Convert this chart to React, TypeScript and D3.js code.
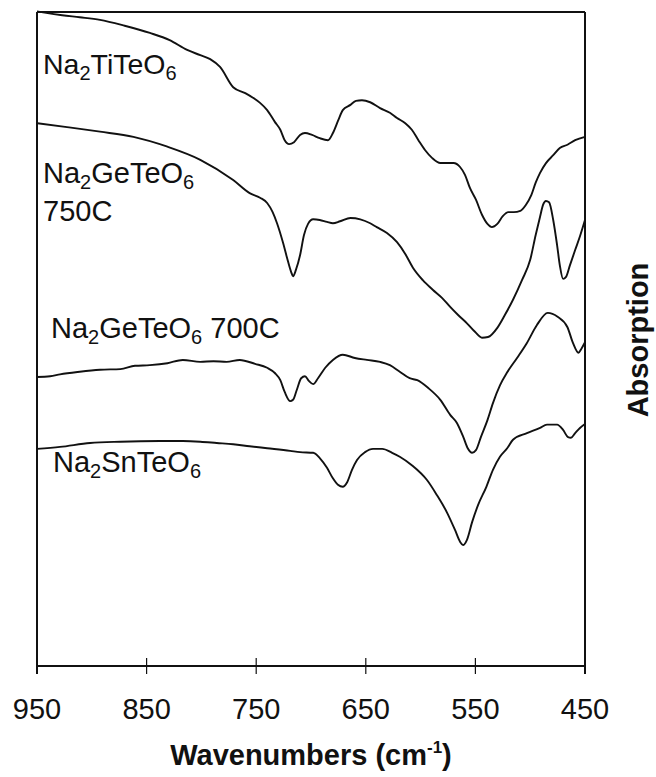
import React from "react";
import * as d3 from "d3";

// Infrared absorption spectra, vertically offset (arbitrary absorption units)
const tiWave = [950, 943, 927, 911, 892.5, 870, 847, 829, 813, 801, 792, 783, 771, 760, 753, 746.5, 740, 733, 728, 724, 720, 715.5, 710, 705.5, 699, 692, 684.5, 680, 675, 671, 664, 659, 653.5, 646, 637, 628, 621.5, 614, 608, 602, 596, 589.6, 582, 576, 570, 564, 559.5, 555, 549.5, 544, 539, 535, 530, 525, 520, 515, 509, 504, 499, 495, 491, 485.6, 479, 473, 466, 459, 450];
const tiAbs = [100.1, 99.9, 99.5, 99.2, 98.8, 97.9, 96.8, 95.7, 94.2, 93.4, 92.8, 91.6, 88.5, 87.6, 86.9, 86.1, 85.0, 83.2, 82.0, 80.4, 79.8, 80.1, 81.2, 81.5, 81.2, 80.7, 80.4, 81.5, 83.5, 85.0, 85.8, 86.4, 86.5, 86.2, 85.3, 84.6, 83.8, 83.0, 82.0, 80.4, 78.9, 77.7, 76.9, 76.9, 76.9, 76.3, 75.1, 73.1, 71.3, 69.0, 67.6, 67.1, 67.6, 68.8, 69.4, 69.4, 69.6, 70.5, 72.0, 73.9, 75.4, 76.9, 78.1, 79.2, 79.7, 80.4, 80.9];

const ge750Wave = [950, 922.6, 892.5, 862, 831, 801, 771, 756, 746.5, 740, 735, 731, 725.5, 722, 718, 716.4, 713.7, 710, 706.4, 702.7, 698, 692, 685.4, 680, 673.5, 664, 655, 646, 640, 630.7, 621.5, 614, 607, 598, 588.7, 580.5, 573, 566, 557.7, 550.4, 544, 538.5, 530, 523, 515.7, 507.5, 500, 495, 491, 488.3, 485.6, 482.8, 479, 475.5, 473, 470, 467.3, 463.7, 459, 454.6, 450];
const ge750Abs = [83.0, 82.4, 81.7, 80.9, 79.4, 77.4, 74.3, 72.3, 71.6, 70.8, 69.4, 67.7, 64.7, 62.5, 60.2, 59.6, 60.6, 62.8, 65.9, 67.6, 68.3, 68.2, 67.9, 67.7, 68.0, 68.5, 68.3, 67.7, 67.1, 66.2, 64.8, 63.0, 60.9, 59.0, 57.5, 56.3, 54.9, 53.7, 52.4, 51.1, 50.2, 50.3, 51.7, 53.7, 56.0, 59.0, 62.1, 65.9, 68.7, 70.5, 71.1, 70.9, 68.2, 64.4, 61.3, 59.2, 59.5, 61.3, 63.6, 65.7, 68.2];

const ge700Wave = [950, 938, 929, 911, 892.5, 874, 860.6, 847, 831, 817, 801, 789, 777, 765, 751, 740, 733, 728, 724, 719, 716.4, 713, 709, 705.5, 702, 698, 693.6, 687, 680, 671, 660, 649, 637, 628, 619, 610, 603, 593, 582, 573, 567, 561, 557, 553, 549.5, 545, 539, 534, 527.6, 521, 512, 503, 494, 484, 475, 466, 461, 456, 453, 450];
const ge700Abs = [44.2, 44.3, 44.6, 45.0, 45.3, 45.4, 45.9, 46.0, 46.3, 46.8, 46.5, 46.6, 46.5, 46.8, 46.2, 45.6, 44.8, 43.7, 41.9, 40.5, 40.7, 42.2, 44.0, 44.3, 43.6, 43.1, 44.0, 45.6, 46.8, 47.6, 47.1, 46.8, 46.5, 46.0, 45.0, 44.0, 43.7, 42.5, 40.7, 38.4, 37.2, 35.0, 33.3, 32.6, 33.0, 35.0, 37.6, 40.2, 42.9, 44.9, 47.1, 49.4, 52.1, 54.0, 53.4, 51.8, 49.4, 47.9, 48.6, 49.5];

const snWave = [950, 929, 901.6, 874, 838, 817, 801, 786, 771, 756, 740, 719, 710, 698, 692, 685.4, 680, 675.4, 671, 667, 662.6, 658, 650.7, 643.4, 635, 626, 619, 608, 594, 585, 576, 568.6, 564, 561.3, 557.7, 553, 547.6, 540, 534, 527.6, 521, 515.7, 503, 491, 484.7, 475.5, 470, 465.5, 462.8, 459, 454.6, 450];
const snAbs = [33.2, 33.5, 34.1, 34.3, 34.4, 34.4, 34.3, 34.1, 33.9, 33.6, 33.3, 32.9, 32.7, 32.6, 31.8, 30.3, 28.7, 27.7, 27.4, 28.1, 30.0, 31.5, 32.7, 33.2, 33.2, 32.6, 32.0, 30.7, 28.4, 26.1, 23.5, 20.8, 19.0, 18.5, 19.3, 22.0, 24.6, 27.4, 30.0, 32.0, 33.3, 34.6, 35.6, 36.4, 36.9, 36.9, 36.1, 35.0, 34.9, 35.6, 36.4, 37.0];

const xTicks = [950, 850, 750, 650, 550, 450];

const seriesList = [
  { wave: tiWave, abs: tiAbs },
  { wave: ge750Wave, abs: ge750Abs },
  { wave: ge700Wave, abs: ge700Abs },
  { wave: snWave, abs: snAbs },
];

const W = 656;
const H = 777;
const left = 37;
const right = 585;
const top = 12;
const bottom = 666;
const FONT = "'Liberation Sans', Arial, Helvetica, sans-serif";

// Chemical formula label with subscripted digits
function Formula({ x, y, parts, size = 29 }: { x: number; y: number; parts: [string, boolean][]; size?: number }) {
  let shifted = false;
  return (
    <text x={x} y={y} fontSize={size} fontFamily={FONT} fill="#111">
      {parts.map(([t, sub], i) => {
        let dy = 0;
        if (sub && !shifted) { dy = 6; shifted = true; }
        else if (!sub && shifted) { dy = -6; shifted = false; }
        return (
          <tspan key={i} dy={dy} fontSize={sub ? 20 : size}>{t}</tspan>
        );
      })}
    </text>
  );
}

export default function App() {
  const x = d3.scaleLinear().domain([950, 450]).range([left, right]);
  const y = d3.scaleLinear().domain([0, 100]).range([bottom, top]);
  const line = d3
    .line<[number, number]>()
    .x((d) => x(d[0]))
    .y((d) => y(d[1]))
    .curve(d3.curveMonotoneX);

  return (
    <svg width={W} height={H} style={{ position: "absolute", left: 0, top: 0, background: "#fff" }}>
      <rect x={0} y={0} width={W} height={H} fill="#fff" />
      {seriesList.map((s, i) => (
        <path
          key={i}
          d={line(s.wave.map((w, j) => [w, s.abs[j]] as [number, number])) || ""}
          fill="none"
          stroke="#111"
          strokeWidth={1.9}
          strokeLinejoin="round"
        />
      ))}
      {/* frame */}
      <line x1={left} x2={right} y1={top} y2={top} stroke="#111" strokeWidth={2} />
      <line x1={left} x2={right} y1={bottom} y2={bottom} stroke="#111" strokeWidth={2} />
      <line x1={left} x2={left} y1={top} y2={bottom + 8} stroke="#111" strokeWidth={2} />
      <line x1={right} x2={right} y1={top} y2={bottom + 8} stroke="#111" strokeWidth={2} />
      {xTicks.map((t) => (
        <g key={t}>
          <line x1={x(t)} x2={x(t)} y1={bottom - 8} y2={bottom + 8} stroke="#111" strokeWidth={1.2} />
          <text x={x(t)} y={719} textAnchor="middle" fontSize={29} fontFamily={FONT} fill="#111">
            {t}
          </text>
        </g>
      ))}
      <text x={(left + right) / 2} y={765} textAnchor="middle" fontSize={29} fontWeight="bold" fontFamily={FONT} fill="#111">
        Wavenumbers (cm<tspan dy={-12} fontSize={17}>-1</tspan><tspan dy={12}>)</tspan>
      </text>
      <text
        transform="translate(648,340) rotate(-90)"
        textAnchor="middle"
        fontSize={29}
        fontWeight="bold"
        fontFamily={FONT}
        fill="#111"
      >
        Absorption
      </text>
      <Formula x={43} y={74} size={28.5} parts={[["Na", false], ["2", true], ["TiTeO", false], ["6", true]]} />
      <Formula x={43} y={183} parts={[["Na", false], ["2", true], ["GeTeO", false], ["6", true]]} />
      <text x={43} y={221} fontSize={29} fontFamily={FONT} fill="#111">750C</text>
      <Formula x={51} y={338} parts={[["Na", false], ["2", true], ["GeTeO", false], ["6", true], [" 700C", false]]} />
      <Formula x={53} y={472} parts={[["Na", false], ["2", true], ["SnTeO", false], ["6", true]]} />
    </svg>
  );
}
